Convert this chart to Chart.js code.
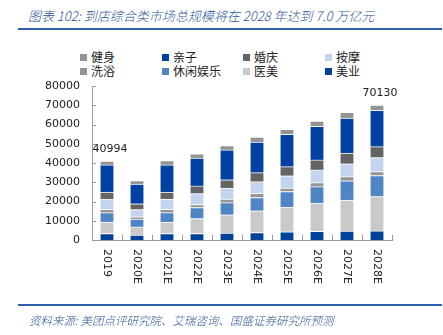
<!DOCTYPE html>
<html>
<head>
<meta charset="utf-8">
<script src="https://cdn.jsdelivr.net/npm/chart.js@4"></script>
<style>
  body { margin: 0; background: #fff; }
  #wrap { position: relative; width: 443px; height: 335px; overflow: hidden; font-family: "Noto Sans CJK SC", sans-serif; }
  #title { position: absolute; left: 28px; top: 6px; font-size: 13px; font-style: italic; font-weight: 300; color: #2f5597; white-space: nowrap; }
  .rule { position: absolute; left: 18px; width: 424px; height: 2px; background: #2e5fac; }
  #source { position: absolute; left: 29px; top: 312px; font-size: 11.5px; font-style: italic; font-weight: 300; color: #2f5597; white-space: nowrap; }
  #legend { position: absolute; left: 0; top: 0; }
  .item { position: absolute; font-size: 12px; color: #222; white-space: nowrap; line-height: 14px; }
  .item i { display: inline-block; width: 7px; height: 7px; margin-right: 4px; vertical-align: 1px; }
  canvas { position: absolute; left: 0; top: 0; }
</style>
</head>
<body>
<div id="wrap">
  <div id="title">图表 102:  到店综合类市场总规模将在 2028 年达到 7.0 万亿元</div>
  <div class="rule" style="top:28px"></div>
  <div id="legend"></div>
  <canvas id="chart" width="443" height="335"></canvas>
  <div class="rule" style="top:304px"></div>
  <div id="source">资料来源:  美团点评研究院、艾瑞咨询、国盛证券研究所预测</div>
</div>
<script>
const years = ['2019', '2020E', '2021E', '2022E', '2023E', '2024E', '2025E', '2026E', '2027E', '2028E']

// stacked bottom to top
const meiye = [3400, 2500, 3400, 3400, 3600, 3900, 4300, 4500, 4600, 4700]
const yimei = [5950, 4300, 5950, 7750, 9500, 11300, 12800, 14500, 16200, 17900]
const xiuxian = [4850, 4100, 4850, 5750, 6300, 6900, 8100, 8700, 10000, 10900]
const xiyu = [1700, 1200, 1700, 1500, 1900, 2100, 1800, 2100, 2100, 2000]
const anmo = [5200, 3700, 5400, 5700, 5700, 6100, 6400, 6600, 6700, 7300]
const hunqing = [3800, 3000, 3600, 4000, 4300, 4700, 4700, 5200, 5600, 5700]
const qinzi = [14100, 10300, 14100, 14500, 15500, 15900, 16800, 17400, 18200, 18800]
const jianshen = [1994, 1800, 2300, 2200, 2300, 2600, 2600, 2800, 2900, 2830]

const totalLabels = { 0: '40994', 9: '70130' }

const series = [
  { label: '美业', data: meiye, color: '#00419a' },
  { label: '医美', data: yimei, color: '#c9c9c9' },
  { label: '休闲娱乐', data: xiuxian, color: '#5085c5' },
  { label: '洗浴', data: xiyu, color: '#949494' },
  { label: '按摩', data: anmo, color: '#c3d5ee' },
  { label: '婚庆', data: hunqing, color: '#646464' },
  { label: '亲子', data: qinzi, color: '#0041a3' },
  { label: '健身', data: jianshen, color: '#949494' },
]

// legend, 4 columns x 2 rows, top of stack first
const legendCols = [80, 162, 243, 325]
const legendRows = [50, 64]
const legendEl = document.getElementById('legend')
series.slice().reverse().forEach((s, i) => {
  const div = document.createElement('div')
  div.className = 'item'
  div.style.left = legendCols[i % 4] + 'px'
  div.style.top = legendRows[Math.floor(i / 4)] + 'px'
  div.innerHTML = `<i style="background:${s.color}"></i>${s.label}`
  legendEl.appendChild(div)
})

const axisColor = '#9a9a9a'
const tickFont = { family: 'DejaVu Sans', size: 11 }

const extras = {
  id: 'extras',
  afterDraw(chart) {
    const { ctx, chartArea } = chart
    const x = chart.scales.x
    const y = chart.scales.y
    ctx.save()
    ctx.strokeStyle = axisColor
    ctx.lineWidth = 1
    // inner tick marks
    y.ticks.forEach((t, i) => {
      const py = Math.round(y.getPixelForTick(i)) + 0.5
      ctx.beginPath()
      ctx.moveTo(chartArea.left, py)
      ctx.lineTo(chartArea.left + 4, py)
      ctx.stroke()
    })
    for (let i = 1; i <= years.length; i++) {
      const px = Math.round(chartArea.left + (chartArea.right - chartArea.left) * i / years.length) + 0.5
      ctx.beginPath()
      ctx.moveTo(px, chartArea.bottom)
      ctx.lineTo(px, chartArea.bottom - 5)
      ctx.stroke()
    }
    // rotated category labels (reading downwards)
    ctx.fillStyle = '#222'
    ctx.font = '11px "DejaVu Sans"'
    ctx.textAlign = 'left'
    ctx.textBaseline = 'middle'
    years.forEach((lab, i) => {
      ctx.save()
      ctx.translate(x.getPixelForTick(i), chartArea.bottom + 9)
      ctx.rotate(Math.PI / 2)
      ctx.fillText(lab, 0, 0)
      ctx.restore()
    })
    // totals above first and last bars
    ctx.textAlign = 'center'
    Object.keys(totalLabels).forEach(k => {
      const i = Number(k)
      const total = series.reduce((a, s) => a + s.data[i], 0)
      ctx.fillText(totalLabels[k], x.getPixelForTick(i) + 3, y.getPixelForValue(total) - 12)
    })
    ctx.restore()
  },
}

new Chart(document.getElementById('chart'), {
  type: 'bar',
  data: {
    labels: years,
    datasets: series.map(s => ({
      label: s.label,
      data: s.data,
      backgroundColor: s.color,
      borderColor: 'rgba(255,255,255,0.7)',
      borderWidth: { top: 1, left: 0, right: 0, bottom: 0 },
      borderSkipped: false,
      barThickness: 13,
    })),
  },
  options: {
    responsive: false,
    animation: false,
    layout: { padding: { left: 0, top: 86, right: 51, bottom: 0 } },
    plugins: { legend: { display: false }, tooltip: { enabled: false } },
    scales: {
      x: {
        stacked: true,
        grid: { display: false, drawTicks: false },
        border: { display: true, color: axisColor },
        ticks: { display: false },
        afterFit: (s) => { s.height = 95 },
      },
      y: {
        stacked: true,
        min: 0,
        max: 80000,
        grid: { display: false, drawTicks: false },
        border: { display: true, color: axisColor },
        ticks: { stepSize: 10000, color: '#222', font: tickFont, padding: 12, callback: (v) => String(v) },
        afterFit: (s) => { s.width = 92 },
      },
    },
  },
  plugins: [extras],
})
</script>
</body>
</html>
